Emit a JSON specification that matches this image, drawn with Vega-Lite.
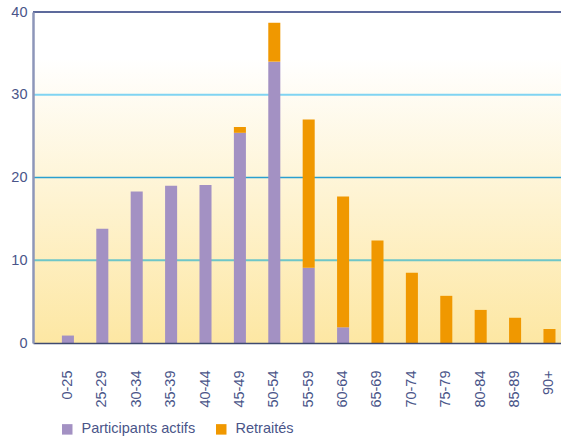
{
  "$schema": "https://vega.github.io/schema/vega-lite/v6.json",
  "autosize": "none",
  "width": 528,
  "height": 331,
  "padding": {"left": 33, "top": 12, "right": 0, "bottom": 94},
  "background": "#ffffff",
  "title": {"text": "(en milliers)", "anchor": "start", "frame": "group", "orient": "top", "baseline": "alphabetic", "offset": 7, "dx": 4, "font": "Liberation Sans", "fontSize": 15, "fontWeight": "normal", "color": "#4a5589"},
  "config": {
    "view": {"stroke": null},
    "font": "Liberation Sans",
    "axis": {"labelFont": "Liberation Sans", "labelFontSize": 14.5, "labelColor": "#4a5589", "ticks": false, "grid": false, "title": null},
    "legend": {"labelFont": "Liberation Sans", "labelFontSize": 14.5, "labelColor": "#4a5589"}
  },
  "datasets": {
    "one": [{"k": 1}],
    "bars": [
      {"age": "0-25", "statut": "Participants actifs", "valeur": 0.9},
      {"age": "25-29", "statut": "Participants actifs", "valeur": 13.8},
      {"age": "30-34", "statut": "Participants actifs", "valeur": 18.3},
      {"age": "35-39", "statut": "Participants actifs", "valeur": 19.0},
      {"age": "40-44", "statut": "Participants actifs", "valeur": 19.1},
      {"age": "45-49", "statut": "Participants actifs", "valeur": 25.4},
      {"age": "45-49", "statut": "Retraités", "valeur": 0.7},
      {"age": "50-54", "statut": "Participants actifs", "valeur": 34.0},
      {"age": "50-54", "statut": "Retraités", "valeur": 4.7},
      {"age": "55-59", "statut": "Participants actifs", "valeur": 9.1},
      {"age": "55-59", "statut": "Retraités", "valeur": 17.9},
      {"age": "60-64", "statut": "Participants actifs", "valeur": 1.9},
      {"age": "60-64", "statut": "Retraités", "valeur": 15.8},
      {"age": "65-69", "statut": "Retraités", "valeur": 12.4},
      {"age": "70-74", "statut": "Retraités", "valeur": 8.5},
      {"age": "75-79", "statut": "Retraités", "valeur": 5.7},
      {"age": "80-84", "statut": "Retraités", "valeur": 4.0},
      {"age": "85-89", "statut": "Retraités", "valeur": 3.05},
      {"age": "90+", "statut": "Retraités", "valeur": 1.7}
    ]
  },
  "layer": [
    {
      "data": {"name": "one"},
      "mark": {"type": "rect", "color": {"gradient": "linear", "x1": 0, "y1": 1, "x2": 0, "y2": 0, "stops": [{"offset": 0, "color": "#fde7a3"}, {"offset": 0.86, "color": "#ffffff"}, {"offset": 1, "color": "#ffffff"}]}},
      "encoding": {"y": {"datum": 0, "type": "quantitative"}, "y2": {"datum": 40}}
    },
    {"data": {"name": "one"}, "mark": {"type": "rule", "color": "#6ec6c8", "strokeWidth": 2}, "encoding": {"y": {"datum": 10, "type": "quantitative"}}},
    {"data": {"name": "one"}, "mark": {"type": "rule", "color": "#2a9fd0", "strokeWidth": 1.5}, "encoding": {"y": {"datum": 20, "type": "quantitative"}}},
    {"data": {"name": "one"}, "mark": {"type": "rule", "color": "#80d4f2", "strokeWidth": 2}, "encoding": {"y": {"datum": 30, "type": "quantitative"}}},
    {"data": {"name": "one"}, "mark": {"type": "rule", "color": "#5d6a9c", "strokeWidth": 2}, "encoding": {"y": {"datum": 40, "type": "quantitative"}}},
    {
      "data": {"name": "bars"},
      "mark": {"type": "bar"},
      "encoding": {
        "x": {"field": "age", "type": "nominal", "sort": null,
          "scale": {"paddingInner": 0.65, "paddingOuter": 0.5, "align": 0.84},
          "axis": {"labelAngle": -90, "labelPadding": 27, "domainColor": "#3f4a70", "domainWidth": 1.5, "zindex": 1}},
        "y": {"field": "valeur", "type": "quantitative", "stack": "zero",
          "scale": {"domain": [0, 40], "nice": false},
          "axis": {"values": [0, 10, 20, 30, 40], "labelPadding": 6, "domainColor": "#8d96b9", "domainWidth": 2.5, "zindex": 1}},
        "color": {"field": "statut", "type": "nominal",
          "scale": {"domain": ["Participants actifs", "Retraités"], "range": ["#a391c3", "#f09800"]},
          "legend": {"title": null, "orient": "none", "direction": "horizontal", "legendX": 27, "legendY": 410, "symbolType": "square", "symbolSize": 110, "symbolStrokeWidth": 0, "labelOffset": 7, "columnPadding": 18, "padding": 0}},
        "order": {"field": "statut", "sort": "ascending"}
      }
    }
  ]
}
